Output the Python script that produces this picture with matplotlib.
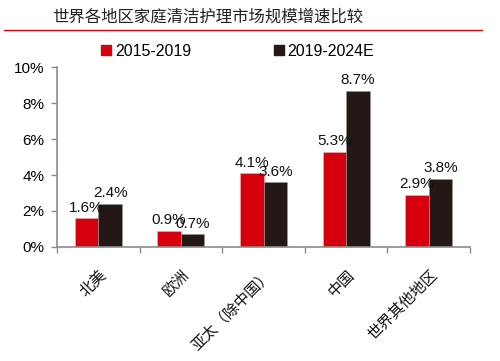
import matplotlib.pyplot as plt
from matplotlib.ticker import FixedLocator, FuncFormatter
from matplotlib.lines import Line2D
import numpy as np

plt.rcParams['font.family'] = ['Noto Sans CJK SC', 'DejaVu Sans']

regions = ['北美', '欧洲', '亚太（除中国）', '中国', '世界其他地区']
growth_2015_2019 = [1.6, 0.9, 4.1, 5.3, 2.9]
growth_2019_2024 = [2.4, 0.7, 3.6, 8.7, 3.8]
series_names = ['2015-2019', '2019-2024E']

red = '#d7000f'
dark = '#231815'
axis_gray = '#8c8c8c'
num_font = 'Liberation Sans'

fig = plt.figure(figsize=(5, 3.61), dpi=100)
ax = fig.add_axes([0.114, 0.316, 0.826, 0.498])

x = np.arange(len(regions))
w = 0.285
b1 = ax.bar(x - w / 2, growth_2015_2019, w, color=red, edgecolor='#f0b0b0', linewidth=0.4)
b2 = ax.bar(x + w / 2, growth_2019_2024, w, color=dark, edgecolor='#9a9a9a', linewidth=0.4)

for bars, vals in ((b1, growth_2015_2019), (b2, growth_2019_2024)):
    for bar, v in zip(bars, vals):
        ax.text(bar.get_x() + bar.get_width() / 2, v + 0.2, f'{v:.1f}%',
                ha='center', va='bottom', fontsize=11, family=num_font, color='#111111')

ax.set_xlim(-0.5, len(regions) - 0.5)
ax.set_ylim(0, 10)
ax.set_yticks([0, 2, 4, 6, 8, 10])
ax.yaxis.set_major_formatter(FuncFormatter(lambda v, p: f'{v:.0f}%'))
ax.set_xticks(x)
ax.set_xticklabels(regions, rotation=45, ha='right', rotation_mode='anchor', fontsize=11)
ax.xaxis.set_minor_locator(FixedLocator(np.arange(-0.5, len(regions), 1)))
ax.tick_params(axis='x', which='major', length=0, pad=14)
ax.tick_params(axis='x', which='minor', length=4, color=axis_gray, width=1)
ax.tick_params(axis='y', length=4, color=axis_gray, width=1, labelsize=11, pad=5)
for lbl in ax.get_yticklabels():
    lbl.set_family(num_font)
for lbl in ax.get_xticklabels():
    lbl.set_color('#111111')

for s in ('top', 'right'):
    ax.spines[s].set_visible(False)
for s in ('left', 'bottom'):
    ax.spines[s].set_color(axis_gray)
    ax.spines[s].set_linewidth(1.2)

# title and red rule
fig.text(0.104, 0.952, '世界各地区家庭清洁护理市场规模增速比较', fontsize=11.8,
         color='#222222', va='center', ha='left')
fig.add_artist(Line2D([0.008, 0.964], [0.917, 0.917], color='#d7000f', linewidth=1.0))

# legend
leg = fig.legend([plt.Rectangle((0, 0), 1, 1, color=red), plt.Rectangle((0, 0), 1, 1, color=dark)],
                 series_names, loc='center left', bbox_to_anchor=(0.19, 0.858), ncol=2,
                 frameon=False, handlelength=0.6, handleheight=0.6, handletextpad=0.25,
                 columnspacing=5.2, borderaxespad=0, prop={'family': num_font, 'size': 11.5})

fig.savefig('out.png', dpi=100)
